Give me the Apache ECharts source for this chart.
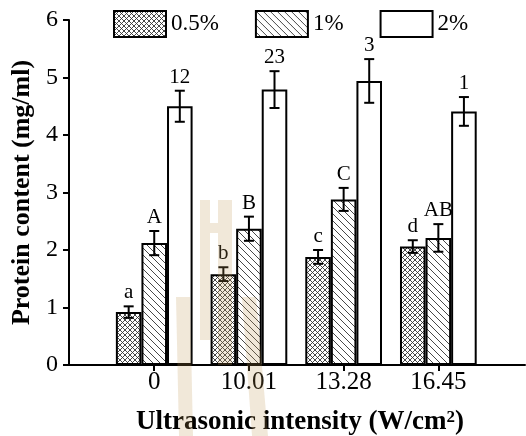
<!DOCTYPE html>
<html><head><meta charset="utf-8">
<script src="https://cdn.jsdelivr.net/npm/echarts@6/dist/echarts.min.js"></script>
<style>html,body{margin:0;padding:0;background:#fff}#c{width:526px;height:436px}</style>
</head><body><div id="c"></div>
<script>
// ---- data ----
const categories = ['0', '10.01', '13.28', '16.45'];
const seriesNames = ['0.5%', '1%', '2%'];
const mean05 = [0.92, 1.58, 1.88, 2.06];
const err05  = [0.10, 0.12, 0.12, 0.11];
const mean1  = [2.12, 2.37, 2.88, 2.21];
const err1   = [0.21, 0.21, 0.20, 0.24];
const mean2  = [4.50, 4.79, 4.94, 4.41];
const err2   = [0.27, 0.32, 0.38, 0.25];
const label05 = ['a', 'b', 'c', 'd'];
const label1  = ['A', 'B', 'C', 'AB'];
const label2  = ['12', '23', '3', '1'];
const yTicks = [0, 1, 2, 3, 4, 5, 6];

const FONT = '"Liberation Serif", "Times New Roman", serif';
const BAR_FRAC = 0.27;

function makePattern(kind) {
  const p = kind === 'cross' ? 5 : 7;
  const c = document.createElement('canvas');
  c.width = p; c.height = p;
  const g = c.getContext('2d');
  g.fillStyle = '#fff'; g.fillRect(0, 0, p, p);
  g.strokeStyle = '#333'; g.lineWidth = 0.9;
  for (let k = -1; k <= 1; k++) {
    g.beginPath(); g.moveTo(k * p, 0); g.lineTo(k * p + p, p); g.stroke();
    if (kind === 'cross') {
      g.beginPath(); g.moveTo(k * p, p); g.lineTo(k * p + p, 0); g.stroke();
    }
  }
  return { image: c, repeat: 'repeat' };
}

const fills = [makePattern('cross'), makePattern('diag'), '#ffffff'];
const means = [mean05, mean1, mean2];
const errs = [err05, err1, err2];
const labels = [label05, label1, label2];

const barSeries = seriesNames.map((name, s) => ({
  name: name,
  type: 'bar',
  barWidth: (BAR_FRAC * 100) + '%',
  barGap: '0%',
  data: means[s].map((v, i) => [i, v]),
  itemStyle: { color: fills[s], borderColor: '#000', borderWidth: 2 },
  emphasis: { disabled: true },
  z: 2
}));

const errSeries = seriesNames.map((name, s) => ({
  name: name + ' err',
  type: 'custom',
  data: means[s].map((v, i) => [i, v, errs[s][i]]),
  z: 5,
  silent: true,
  renderItem: (params, api) => {
    const i = api.value(0), m = api.value(1), e = api.value(2);
    const bw = api.size([1, 0])[0] * BAR_FRAC;
    const x = api.coord([i, 0])[0] + (s - 1) * bw;
    const yt = api.coord([i, m + e])[1];
    const yb = api.coord([i, m - e])[1];
    const cap = 5;
    const ls = { stroke: '#000', lineWidth: 2 };
    return {
      type: 'group',
      children: [
        { type: 'line', shape: { x1: x, y1: yt, x2: x, y2: yb }, style: ls },
        { type: 'line', shape: { x1: x - cap, y1: yt, x2: x + cap, y2: yt }, style: ls },
        { type: 'line', shape: { x1: x - cap, y1: yb, x2: x + cap, y2: yb }, style: ls },
        { type: 'text', style: { text: labels[s][params.dataIndex], x: x, y: yt - 3,
            align: 'center', verticalAlign: 'bottom', fill: '#000',
            font: '21px ' + FONT } }
      ]
    };
  }
}));

const wm = 'rgba(190,150,80,0.22)';
const option = {
  animation: false,
  backgroundColor: '#fff',
  grid: { left: 69, right: 1, top: 20, bottom: 71, outerBoundsMode: 'none', containLabel: false },
  legend: {
    data: seriesNames,
    left: 108, top: 5,
    itemWidth: 52, itemHeight: 26, itemGap: 36,
    icon: 'rect',
    textStyle: { fontFamily: FONT, fontSize: 23, color: '#000' },
    selectedMode: false
  },
  xAxis: {
    type: 'value', min: -0.9, max: 3.915,
    axisLine: { show: true, onZero: false, lineStyle: { color: '#000', width: 2 } },
    axisTick: { show: true, customValues: [0, 1, 2, 3], length: 6, lineStyle: { color: '#000', width: 2 } },
    axisLabel: { customValues: [0, 1, 2, 3], formatter: v => categories[v], fontFamily: FONT, fontSize: 25, color: '#000', margin: 5 },
    splitLine: { show: false },
    name: 'Ultrasonic intensity (W/cm{sup|2})',
    nameLocation: 'middle', nameGap: 44,
    nameTextStyle: { fontFamily: FONT, fontSize: 27, fontWeight: 'bold', color: '#000', padding: [0, 0, 0, 6],
      rich: { sup: { fontFamily: FONT, fontSize: 17, fontWeight: 'bold', color: '#000', verticalAlign: 'top', padding: [0, 0, 10, 0] } } }
  },
  yAxis: {
    type: 'value', min: 0, max: 6, interval: 1,
    axisLine: { show: true, onZero: false, lineStyle: { color: '#000', width: 2 } },
    axisTick: { show: true, length: 6, lineStyle: { color: '#000', width: 2 } },
    axisLabel: { formatter: v => (yTicks.includes(v) ? String(v) : ''), fontFamily: FONT, fontSize: 24, color: '#000', margin: 11 },
    splitLine: { show: false },
    name: 'Protein content (mg/ml)',
    nameLocation: 'middle', nameGap: 33,
    nameTextStyle: { fontFamily: FONT, fontSize: 26, fontWeight: 'bold', color: '#000' }
  },
  graphic: [
    { type: 'rect', z: 100, silent: true, shape: { x: 200, y: 200, width: 10, height: 140 }, style: { fill: wm } },
    { type: 'rect', z: 100, silent: true, shape: { x: 218, y: 200, width: 14, height: 165 }, style: { fill: wm } },
    { type: 'rect', z: 100, silent: true, shape: { x: 210, y: 223, width: 8, height: 10 }, style: { fill: wm } },
    { type: 'polygon', z: 100, silent: true, shape: { points: [[176, 297], [190, 297], [193, 436], [179, 436]] }, style: { fill: wm } },
    { type: 'polygon', z: 100, silent: true, shape: { points: [[242, 297], [256, 297], [268, 436], [252, 436]] }, style: { fill: wm } }
  ],
  series: [...barSeries, ...errSeries]
};
const chart = echarts.init(document.getElementById('c'), null, { renderer: 'canvas' });
chart.setOption(option);
</script></body></html>
